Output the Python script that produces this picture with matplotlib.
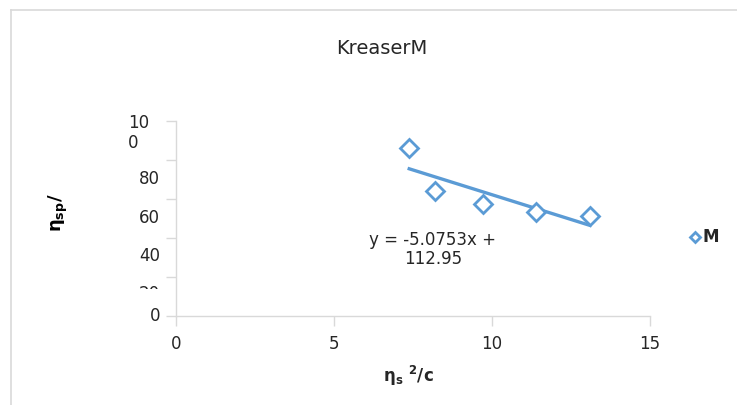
import matplotlib.pyplot as plt
from matplotlib.lines import Line2D
from matplotlib.transforms import Bbox

# measurements
conc_ratio = [7.38, 8.2, 9.7, 11.38, 13.1]
eta_red = [86.0, 64.2, 57.5, 53.5, 51.3]
slope = -5.0753
intercept = 112.95
y_ticks = [0, 20, 40, 60, 80, 100]
y_tick_labels = ['0', '20', '40', '60', '80', '10\n0']
x_ticks = [0, 5, 10, 15]

# label placement next to the y ticks (pixels right / down)
y_label_dx = [-16, -16, -16, -16, -16, -27]
y_label_dy = [0, 17, 18, 19, 19, 12]

blue = '#5b9bd5'
grid_grey = '#d9d9d9'
text_col = '#262626'

plt.rcParams['font.family'] = ['DejaVu Sans']

fig = plt.figure(figsize=(7.37, 4.05), dpi=100)
ax = fig.add_axes([176 / 737, 89 / 405, 474 / 737, 195 / 405])

ax.plot(conc_ratio, eta_red, linestyle='none', marker='D', markersize=9,
        markerfacecolor='white', markeredgecolor=blue, markeredgewidth=2.0,
        clip_on=False, zorder=3)

# linear trendline over the data range
x0, x1 = min(conc_ratio), max(conc_ratio)
ax.plot([x0, x1], [slope * x0 + intercept, slope * x1 + intercept],
        color=blue, linewidth=2.4, zorder=2)

ax.text(8.13, 34.0, 'y = -5.0753x +\n112.95', ha='center', va='center',
        fontsize=12, color=text_col, linespacing=1.05)

ax.set_xlim(0, 15)
ax.set_ylim(0, 100)
ax.set_xticks(x_ticks)
ax.set_yticks(y_ticks)
ax.set_yticklabels([])
ax.tick_params(axis='both', colors=grid_grey, labelcolor=text_col,
               labelsize=12, length=7, width=1)
ax.tick_params(axis='x', pad=7)
for side in ['top', 'right']:
    ax.spines[side].set_visible(False)
for side in ['left', 'bottom']:
    ax.spines[side].set_color(grid_grey)
    ax.spines[side].set_linewidth(1)

# y tick labels, set a little below their ticks
for val, lab, dx, dy in zip(y_ticks, y_tick_labels, y_label_dx, y_label_dy):
    t = ax.annotate(lab, xy=(0, val), xycoords=ax.get_yaxis_transform(),
                    xytext=(dx, -dy), textcoords='offset pixels',
                    ha='right', va='center', multialignment='left',
                    fontsize=12, color=text_col, linespacing=1.2,
                    annotation_clip=False)
    if val == 20:
        # mostly hidden, only the top edge shows
        t.set_clip_on(True)
        t.set_clip_box(Bbox.from_extents(0, 405 - 289, 737, 405))

fig.text(408 / 737, 1 - 376 / 405, r'$\mathbf{\eta_s}$ $\mathbf{^2}$/c',
         ha='center', va='center', fontsize=12, fontweight='bold',
         color=text_col)
fig.text(58 / 737, 1 - 213 / 405, r'$\mathbf{\eta_{sp}/}$', rotation=90,
         ha='center', va='center', fontsize=13, color='black')

fig.text(382 / 737, 1 - 49 / 405, 'KreaserM', ha='center', va='center',
         fontsize=14, color=text_col)

# legend entry to the right of the plot
fig.add_artist(Line2D([695 / 737], [1 - 237 / 405], marker='D', markersize=5.5,
                      markerfacecolor='white', markeredgecolor=blue,
                      markeredgewidth=2.0, linestyle='none'))
fig.text(703 / 737, 1 - 237 / 405, 'M', ha='left', va='center',
         fontsize=12, fontweight='bold', color=text_col)

# chart area border
fig.add_artist(Line2D([11 / 737, 11 / 737], [0, 1 - 10 / 405],
                      color=grid_grey, linewidth=1.2))
fig.add_artist(Line2D([11 / 737, 1], [1 - 10 / 405, 1 - 10 / 405],
                      color=grid_grey, linewidth=1.2))

fig.savefig('out.png', dpi=100, facecolor='white')
